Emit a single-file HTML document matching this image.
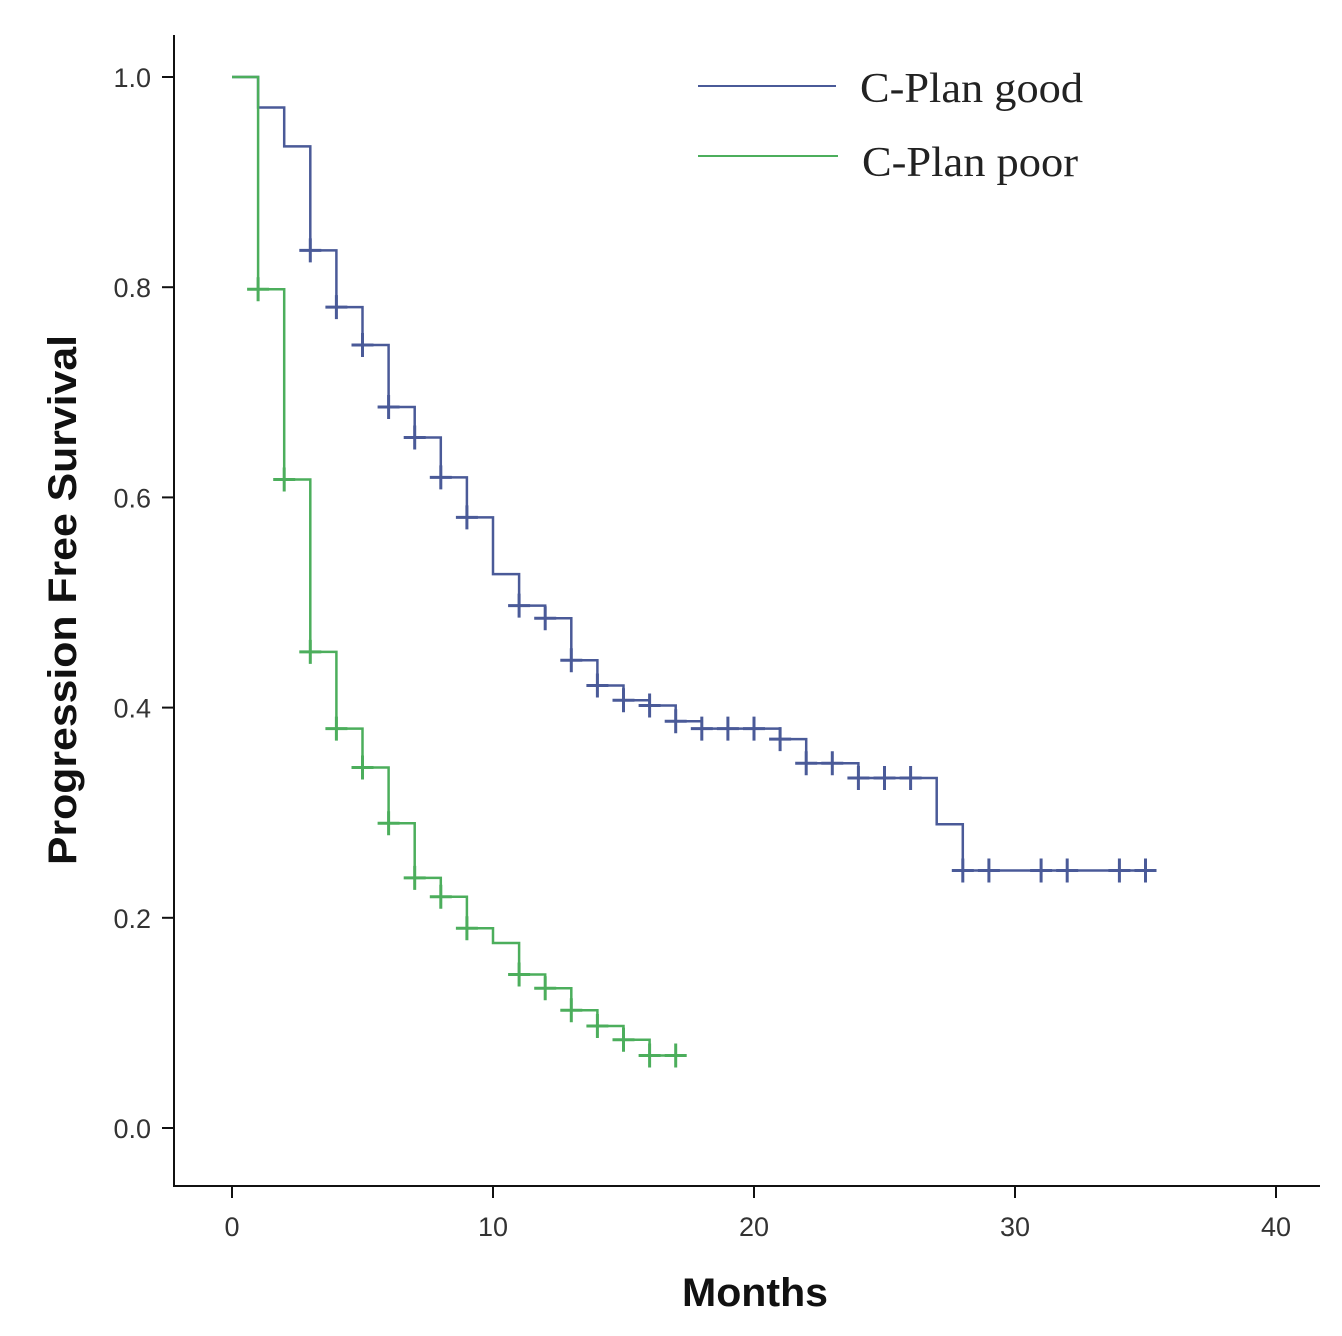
<!DOCTYPE html>
<html><head><meta charset="utf-8"><style>
html,body{margin:0;padding:0;background:#fff;}
svg{display:block;}
</style></head><body>
<svg id="chart" width="1342" height="1336" xmlns="http://www.w3.org/2000/svg">
<g id="axes"></g>
<g id="series"></g>
<g>
<line x1="698" y1="86" x2="836" y2="86" stroke="#4a5a98" stroke-width="2"/>
<text x="860" y="102" textLength="223" lengthAdjust="spacingAndGlyphs" font-family="Liberation Serif, serif" font-size="42" fill="#222">C-Plan good</text>
<line x1="698" y1="156" x2="838" y2="156" stroke="#4cae5c" stroke-width="2"/>
<text x="862" y="176" textLength="216" lengthAdjust="spacingAndGlyphs" font-family="Liberation Serif, serif" font-size="42" fill="#222">C-Plan poor</text>
</g>
<text x="755" y="1306" text-anchor="middle" textLength="146" lengthAdjust="spacingAndGlyphs" font-family="Liberation Sans, sans-serif" font-weight="bold" font-size="40" fill="#111">Months</text>
<text transform="translate(76,600) rotate(-90)" text-anchor="middle" textLength="530" lengthAdjust="spacingAndGlyphs" font-family="Liberation Sans, sans-serif" font-weight="bold" font-size="40" fill="#111">Progression Free Survival</text>
</svg>
<script>
const xTicks = [0, 10, 20, 30, 40];
const yTicks = [0.0, 0.2, 0.4, 0.6, 0.8, 1.0];
const goodTimes = [0,1,2,3,4,5,6,7,8,9,10,11,12,13,14,15,16,17,18,21,22,24,27,28];
const goodValues = [1.0,0.971,0.934,0.835,0.781,0.745,0.686,0.657,0.619,0.581,0.527,0.497,0.485,0.445,0.421,0.407,0.402,0.387,0.380,0.370,0.347,0.333,0.289,0.245];
const goodEnd = 35.3;
const goodCensor = [3,4,5,6,7,8,9,11,12,13,14,15,16,17,18,19,20,21,22,23,24,25,26,28,29,31,32,34,35];
const poorTimes = [0,1,2,3,4,5,6,7,8,9,10,11,12,13,14,15,16];
const poorValues = [1.0,0.798,0.617,0.453,0.380,0.343,0.290,0.238,0.220,0.190,0.176,0.146,0.133,0.112,0.097,0.084,0.069];
const poorEnd = 17.35;
const poorCensor = [1,2,3,4,5,6,7,8,9,11,12,13,14,15,16,17];

const NS = 'http://www.w3.org/2000/svg';
const X = t => 232 + t * (1276 - 232) / 40;
const Y = v => 1128 - v * (1128 - 77);
function mk(tag, attrs, parent){const e=document.createElementNS(NS,tag);for(const k in attrs)e.setAttribute(k,attrs[k]);parent.appendChild(e);return e;}
const axes = document.getElementById('axes');
const ax1 = mk('path',{d:'M174 35 V1186 H1320',fill:'none',stroke:'#111','stroke-width':2},axes);


xTicks.forEach(t=>{
  const l=mk('line',{x1:X(t),y1:1186,x2:X(t),y2:1198,stroke:'#111','stroke-width':2},axes);
  
  
  const tx=mk('text',{x:X(t),y:1236,'text-anchor':'middle','font-family':'Liberation Sans, sans-serif','font-size':27,fill:'#333'},axes);
  tx.textContent=String(t);
  
  
});
yTicks.forEach(v=>{
  const l=mk('line',{x1:162,y1:Y(v),x2:174,y2:Y(v),stroke:'#111','stroke-width':2},axes);
  
  
  const tx=mk('text',{x:151,y:Y(v)+10,'text-anchor':'end','font-family':'Liberation Sans, sans-serif','font-size':27,fill:'#333'},axes);
  tx.textContent=v.toFixed(1);
  
  
});
const series = document.getElementById('series');
function valAt(times, vals, t){let v=vals[0];for(let i=0;i<times.length;i++){if(times[i]<=t+1e-9)v=vals[i];}return v;}
function drawSeries(times, vals, end, censor, color, name){
  let d='M'+X(times[0])+' '+Y(vals[0]);
  for(let i=1;i<times.length;i++){d+=' H'+X(times[i])+' V'+Y(vals[i]);}
  d+=' H'+X(end);
  const p=mk('path',{d:d,fill:'none',stroke:color,'stroke-width':2.5},series);
  
  
  censor.forEach(t=>{
    const x=X(t),y=Y(valAt(times,vals,t));
    const c=mk('path',{d:`M${x-11} ${y} H${x+11} M${x} ${y-12} V${y+12}`,stroke:color,'stroke-width':3,fill:'none'},series);
    
    
  });
}
drawSeries(goodTimes,goodValues,goodEnd,goodCensor,'#4a5a98','good');
drawSeries(poorTimes,poorValues,poorEnd,poorCensor,'#4cae5c','poor');
</script>
</body></html>
